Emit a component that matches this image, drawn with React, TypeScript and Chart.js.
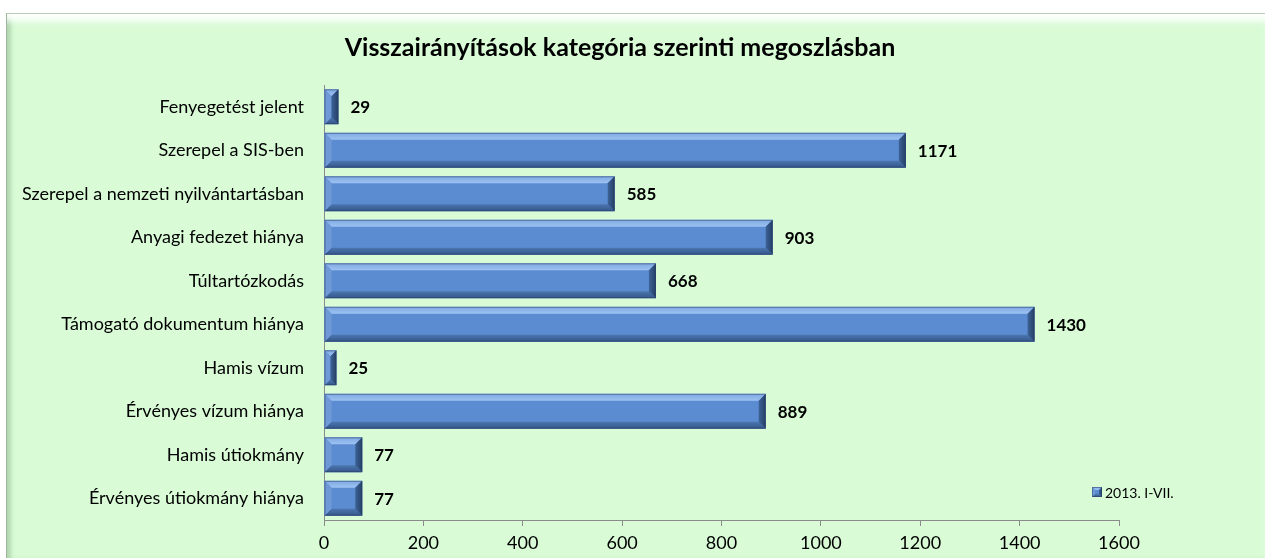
import React, { useEffect, useRef } from 'react';
import { Chart, registerables } from 'chart.js';

Chart.register(...registerables);

const categories: string[] = [
  'Fenyegetést jelent',
  'Szerepel a SIS-ben',
  'Szerepel a nemzeti nyilvántartásban',
  'Anyagi fedezet hiánya',
  'Túltartózkodás',
  'Támogató dokumentum hiánya',
  'Hamis vízum',
  'Érvényes vízum hiánya',
  'Hamis útiokmány',
  'Érvényes útiokmány hiánya',
];

const seriesName = '2013. I-VII.';
const values: number[] = [29, 1171, 585, 903, 668, 1430, 25, 889, 77, 77];

const titleText = 'Visszairányítások kategória szerinti megoszlásban';
const axisMin = 0;
const axisMax = 1600;
const axisStep = 200;

const FONT = 'Lato, "Open Sans", sans-serif';

function drawBevelRect(ctx: CanvasRenderingContext2D, x0: number, x1: number, y0: number, y1: number, bMax: number) {
  const w = x1 - x0;
  const h = y1 - y0;
  const b = Math.max(1, Math.min(bMax, w / 2, h / 2));
  ctx.save();
  ctx.fillStyle = '#5b8cd2';
  ctx.fillRect(x0, y0, w, h);
  // top
  let g = ctx.createLinearGradient(0, y0, 0, y0 + b);
  g.addColorStop(0, '#7fa9e2');
  g.addColorStop(1, '#9ec3f3');
  ctx.fillStyle = g;
  ctx.beginPath();
  ctx.moveTo(x0, y0); ctx.lineTo(x1, y0); ctx.lineTo(x1 - b, y0 + b); ctx.lineTo(x0 + b, y0 + b); ctx.closePath();
  ctx.fill();
  // bottom
  g = ctx.createLinearGradient(0, y1 - b, 0, y1);
  g.addColorStop(0, '#4c77b0');
  g.addColorStop(1, '#34568a');
  ctx.fillStyle = g;
  ctx.beginPath();
  ctx.moveTo(x0, y1); ctx.lineTo(x1, y1); ctx.lineTo(x1 - b, y1 - b); ctx.lineTo(x0 + b, y1 - b); ctx.closePath();
  ctx.fill();
  // left
  ctx.fillStyle = '#6e99d6';
  ctx.beginPath();
  ctx.moveTo(x0, y0); ctx.lineTo(x0 + b, y0 + b); ctx.lineTo(x0 + b, y1 - b); ctx.lineTo(x0, y1); ctx.closePath();
  ctx.fill();
  // right
  g = ctx.createLinearGradient(x1 - b, 0, x1, 0);
  g.addColorStop(0, '#3d6397');
  g.addColorStop(1, '#253f66');
  ctx.fillStyle = g;
  ctx.beginPath();
  ctx.moveTo(x1, y0); ctx.lineTo(x1 - b, y0 + b); ctx.lineTo(x1 - b, y1 - b); ctx.lineTo(x1, y1); ctx.closePath();
  ctx.fill();
  ctx.strokeStyle = 'rgba(40,60,100,0.5)';
  ctx.lineWidth = 1;
  ctx.strokeRect(x0 + 0.5, y0 + 0.5, w - 1, h - 1);
  ctx.restore();
}

const titlePlugin = {
  id: 'customTitle',
  afterDraw(chart: any) {
    const ctx = chart.ctx as CanvasRenderingContext2D;
    ctx.save();
    ctx.fillStyle = '#000';
    ctx.font = `bold 25px ${FONT}`;
    ctx.textAlign = 'center';
    ctx.textBaseline = 'middle';
    ctx.fillText(titleText, 614, 35);
    ctx.restore();
  },
};

const bevelPlugin = {
  id: 'bevelBars',
  afterDatasetsDraw(chart: any) {
    const ctx = chart.ctx as CanvasRenderingContext2D;
    chart.data.datasets.forEach((ds: any, di: number) => {
      const meta = chart.getDatasetMeta(di);
      meta.data.forEach((bar: any, i: number) => {
        const p = bar.getProps(['x', 'y', 'base', 'height'], true);
        const x0 = Math.min(p.base, p.x);
        const x1 = Math.max(p.base, p.x);
        const y0 = p.y - p.height / 2;
        const y1 = p.y + p.height / 2;
        drawBevelRect(ctx, x0, x1, y0, y1, 7);
        ctx.save();
        ctx.fillStyle = '#000';
        ctx.font = `bold 17px ${FONT}`;
        ctx.textAlign = 'left';
        ctx.textBaseline = 'middle';
        ctx.fillText(String(ds.data[i]), x1 + 12, p.y + 1);
        ctx.restore();
      });
    });
    // legend
    const area = chart.chartArea;
    const lx = area.right - 27;
    const ly = area.bottom - 28;
    drawBevelRect(ctx, lx, lx + 10, ly - 5, ly + 5, 3);
    ctx.save();
    ctx.fillStyle = '#000';
    ctx.font = `14px ${FONT}`;
    ctx.textAlign = 'left';
    ctx.textBaseline = 'middle';
    ctx.fillText(seriesName, lx + 13, ly + 1);
    ctx.restore();
  },
};

export default function App() {
  const canvasRef = useRef<HTMLCanvasElement | null>(null);

  useEffect(() => {
    if (!canvasRef.current) return;
    const chart = new Chart(canvasRef.current, {
      type: 'bar',
      data: {
        labels: categories,
        datasets: [
          {
            label: seriesName,
            data: values,
            backgroundColor: 'rgba(0,0,0,0)',
            borderWidth: 0,
            categoryPercentage: 1,
            barPercentage: 0.8,
          },
        ],
      },
      options: {
        indexAxis: 'y',
        responsive: false,
        maintainAspectRatio: false,
        animation: false,
        layout: { padding: { left: 0, right: 146, top: 72, bottom: 0 } },
        plugins: {
          legend: { display: false },
          tooltip: { enabled: false },
          title: { display: false },
        },
        scales: {
          x: {
            min: axisMin,
            max: axisMax,
            ticks: {
              stepSize: axisStep,
              color: '#000',
              font: { family: FONT, size: 18 },
              padding: 6,
              callback: (v: any) => String(v),
            },
            grid: { drawOnChartArea: false, drawTicks: true, tickLength: 6, color: '#8a8a8a' },
            border: { display: true, color: '#8a8a8a' },
            afterFit: (s: any) => { s.height = 38; },
          },
          y: {
            ticks: { color: '#000', font: { family: FONT, size: 18 }, padding: 20 },
            grid: { display: false, drawTicks: false },
            border: { display: true, color: '#8a8a8a' },
            afterFit: (s: any) => { s.width = 318; },
          },
        },
      },
      plugins: [bevelPlugin, titlePlugin],
    });
    return () => chart.destroy();
  }, []);

  return (
    <div style={{ position: 'fixed', left: 0, top: 0, width: 1265, height: 558, background: '#fff', overflow: 'hidden' }}>
      <div
        style={{
          position: 'absolute',
          left: 6,
          top: 13,
          width: 1259,
          height: 545,
          background: '#d9fcd7',
          borderTop: '1px solid #b9cdb8',
          borderLeft: '1px solid #9fb59e',
          boxSizing: 'border-box',
          boxShadow: 'inset 0 10px 6px -3px rgba(255,255,255,0.95), inset 6px 0 5px -3px rgba(90,140,90,0.45)',
        }}
      />
      <canvas
        ref={canvasRef}
        width={1259}
        height={545}
        style={{ position: 'absolute', left: 6, top: 13, width: 1259, height: 545 }}
      />
    </div>
  );
}
